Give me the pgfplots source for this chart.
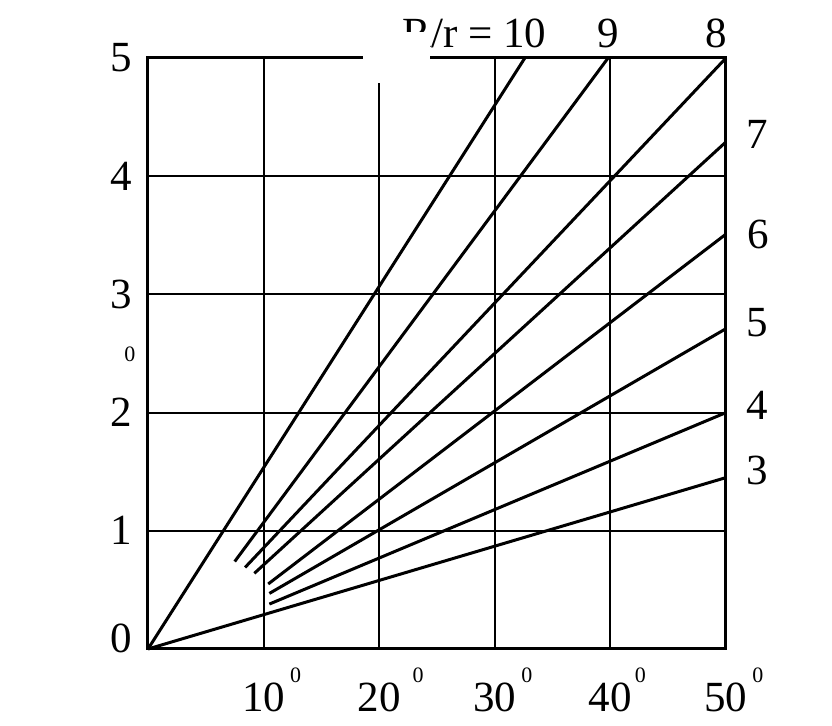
\documentclass[border=0pt]{standalone}
\usepackage{fontspec}
\setmainfont{Liberation Serif}
\usepackage{pgfplots}
\pgfplotsset{compat=1.18}
\newcommand{\bigf}{\fontsize{21.5}{25}\selectfont}
\newcommand{\degsup}[1]{\rlap{\hspace{#1}\smash{\raisebox{14.5pt}{\fontsize{11}{12}\selectfont 0}}}}
\begin{document}
\begin{tikzpicture}
\useasboundingbox (-74pt,-38.5pt) rectangle (342pt,324.5pt);
\begin{axis}[
  at={(0,0)}, anchor=south west,
  scale only axis, width=289pt, height=295.5pt,
  xmin=0, xmax=50, ymin=0, ymax=5,
  xtick={10,20,30,40,50}, ytick={0,1,2,3,4,5},
  xticklabels={10\degsup{2.5pt}, 20\degsup{6pt}, 30\degsup{2.5pt}, 40\degsup{1.5pt}, 50\degsup{2.5pt}},
  yticklabels={\raisebox{11pt}{0},1,2,3,4,5},
  major tick length=0pt,
  grid=major, grid style={black, line width=1pt},
  axis line style={line width=1.5pt},
  tick label style={font=\bigf},
  xticklabel style={anchor=north, inner sep=0pt, yshift=-17pt},
  yticklabel style={anchor=east, inner sep=0pt, xshift=-8pt},
  clip=false,
]
\addplot[black, solid, line width=1.5pt, mark=none] coordinates {(0,0) (32.6,5)};
\addplot[black, solid, line width=1.5pt, mark=none] coordinates {(7.5,0.74) (39.8,5)};
\addplot[black, solid, line width=1.5pt, mark=none] coordinates {(8.4,0.69) (50,5)};
\addplot[black, solid, line width=1.5pt, mark=none] coordinates {(9.2,0.64) (50,4.29)};
\addplot[black, solid, line width=1.5pt, mark=none] coordinates {(10.4,0.55) (50,3.51)};
\addplot[black, solid, line width=1.5pt, mark=none] coordinates {(10.5,0.47) (50,2.71)};
\addplot[black, solid, line width=1.5pt, mark=none] coordinates {(10.5,0.38) (50,2.0)};
\addplot[black, solid, line width=1.5pt, mark=none] coordinates {(0,0) (50,1.45)};

\node[font=\bigf, inner sep=0pt, anchor=base west] at (axis cs:21.97,5.09) {R/r = 10};
\node[font=\bigf, inner sep=0pt] at (axis cs:39.79,5.21) {9};
\node[font=\bigf, inner sep=0pt] at (axis cs:49.13,5.21) {8};
\node[font=\bigf, inner sep=0pt] at (axis cs:52.68,4.35) {7};
\node[font=\bigf, inner sep=0pt] at (axis cs:52.77,3.51) {6};
\node[font=\bigf, inner sep=0pt] at (axis cs:52.68,2.76) {5};
\node[font=\bigf, inner sep=0pt] at (axis cs:52.68,2.06) {4};
\node[font=\bigf, inner sep=0pt] at (axis cs:52.68,1.51) {3};
\node[font=\fontsize{11}{12}\selectfont, inner sep=0pt] at (axis cs:-1.56,2.49) {0};
\end{axis}
\fill[white] (107.5pt,283pt) rectangle (141pt,308.5pt);
\end{tikzpicture}
\end{document}
